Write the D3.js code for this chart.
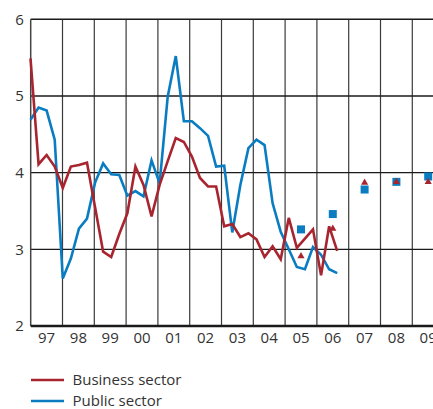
<!DOCTYPE html>
<html>
<head>
<meta charset="utf-8">
<script src="https://cdn.jsdelivr.net/npm/d3@7"></script>
<style>
  html, body { margin: 0; padding: 0; background: #fff; overflow: hidden; }
  svg { display: block; }
  text { font-family: "Open Sans", "Noto Sans", sans-serif; fill: #333; }
</style>
</head>
<body>
<svg id="chart" width="433" height="409"></svg>
<script>
// Annual wage growth, percent. Quarterly figures 1997 Q1 - 2006 Q3,
// with annual projections 2005 - 2009.
const yearLabels = ["97", "98", "99", "00", "01", "02", "03", "04", "05", "06", "07", "08", "09"];
const yTicks = [2, 3, 4, 5, 6];

const firstQuarter = 1997;          // 1997 Q1
const business = [
  5.49, 4.11, 4.23, 4.08, 3.80, 4.08, 4.10, 4.13, 3.55, 2.97,
  2.90, 3.20, 3.47, 4.08, 3.84, 3.43, 3.84, 4.15, 4.45, 4.40,
  4.21, 3.93, 3.82, 3.82, 3.30, 3.33, 3.16, 3.21, 3.13, 2.90,
  3.04, 2.87, 3.41, 3.02, 3.14, 3.26, 2.66, 3.30, 2.98
];
const publicSector = [
  4.69, 4.85, 4.81, 4.43, 2.62, 2.88, 3.27, 3.40, 3.87, 4.12,
  3.98, 3.97, 3.70, 3.76, 3.69, 4.16, 3.86, 4.99, 5.52, 4.67,
  4.67, 4.58, 4.48, 4.08, 4.09, 3.22, 3.84, 4.32, 4.43, 4.36,
  3.60, 3.23, 3.00, 2.77, 2.74, 3.03, 2.93, 2.74, 2.69
];

// Annual projections
const projYears = ["05", "06", "07", "08", "09"];
const projBusiness = [2.91, 3.27, 3.87, 3.88, 3.88];
const projPublic = [3.26, 3.46, 3.78, 3.88, 3.95];

const seriesNames = ["Business sector", "Public sector"];
const colors = { business: "#a8252f", public: "#0a7dc2" };

const svg = d3.select("#chart");

const plotLeft = 30.7, plotTop = 19.3, plotBottom = 326, yearWidth = 31.8;

const y = d3.scaleLinear().domain([2, 6]).range([plotBottom, plotTop]);
const xYear = d3.scaleBand().domain(yearLabels)
  .range([plotLeft, plotLeft + yearWidth * yearLabels.length]).padding(0);
const xTime = d3.scaleLinear()
  .domain([firstQuarter, firstQuarter + (business.length - 1) / 4])
  .range([30.5, 337.2]);

// vertical year separators
const g = svg.append("g");
g.selectAll("line.v").data(yearLabels.slice(1)).join("line")
  .attr("class", "v")
  .attr("x1", d => xYear(d)).attr("x2", d => xYear(d))
  .attr("y1", plotTop).attr("y2", plotBottom)
  .attr("stroke", "#3a3a3a").attr("stroke-width", 1.2);

// horizontal gridlines
g.selectAll("line.h").data(yTicks.filter(v => v > 2)).join("line")
  .attr("class", "h")
  .attr("x1", plotLeft).attr("x2", 433)
  .attr("y1", d => y(d)).attr("y2", d => y(d))
  .attr("stroke", "#1a1a1a").attr("stroke-width", 1.4);

// left axis line
g.append("line").attr("x1", plotLeft).attr("x2", plotLeft).attr("y1", plotTop).attr("y2", plotBottom)
  .attr("stroke", "#444").attr("stroke-width", 1.5);
// bottom axis line
g.append("line").attr("x1", plotLeft).attr("x2", 433).attr("y1", plotBottom).attr("y2", plotBottom)
  .attr("stroke", "#1a1a1a").attr("stroke-width", 2.4);

// y tick labels
svg.append("g").selectAll("text").data(yTicks).join("text")
  .attr("x", 19.5).attr("y", d => y(d)).attr("dy", "0.36em")
  .attr("text-anchor", "middle").attr("font-size", 15)
  .text(d => d);

// x year labels
svg.append("g").selectAll("text").data(yearLabels).join("text")
  .attr("x", d => xYear(d) + xYear.bandwidth() / 2).attr("y", 343)
  .attr("text-anchor", "middle").attr("font-size", 15)
  .text(d => d);

// series lines
const line = d3.line()
  .x((d, i) => xTime(firstQuarter + i / 4))
  .y(d => y(d));

svg.append("path").datum(publicSector)
  .attr("d", line).attr("fill", "none")
  .attr("stroke", colors.public).attr("stroke-width", 2.6)
  .attr("stroke-linejoin", "miter");
svg.append("path").datum(business)
  .attr("d", line).attr("fill", "none")
  .attr("stroke", colors.business).attr("stroke-width", 2.6)
  .attr("stroke-linejoin", "miter");

// projection markers
const sq = 8;
svg.append("g").selectAll("rect").data(projYears).join("rect")
  .attr("x", (d) => xYear(d) + xYear.bandwidth() / 2 - sq / 2)
  .attr("y", (d, i) => y(projPublic[i]) - sq / 2)
  .attr("width", sq).attr("height", sq)
  .attr("fill", colors.public);

const tri = d3.symbol().type(d3.symbolTriangle).size(22);
svg.append("g").selectAll("path").data(projYears).join("path")
  .attr("d", tri)
  .attr("transform", (d, i) => `translate(${xYear(d) + xYear.bandwidth() / 2},${y(projBusiness[i])})`)
  .attr("fill", colors.business);

// legend
const legend = svg.append("g");
const legendRows = [
  { name: seriesNames[0], color: colors.business, yPos: 380 },
  { name: seriesNames[1], color: colors.public, yPos: 401 }
];
legend.selectAll("line").data(legendRows).join("line")
  .attr("x1", 31).attr("x2", 64)
  .attr("y1", d => d.yPos).attr("y2", d => d.yPos)
  .attr("stroke", d => d.color).attr("stroke-width", 2.6);
legend.selectAll("text").data(legendRows).join("text")
  .attr("x", 72.5).attr("y", d => d.yPos).attr("dy", "0.35em")
  .attr("font-size", 15)
  .text(d => d.name);
</script>
</body>
</html>
